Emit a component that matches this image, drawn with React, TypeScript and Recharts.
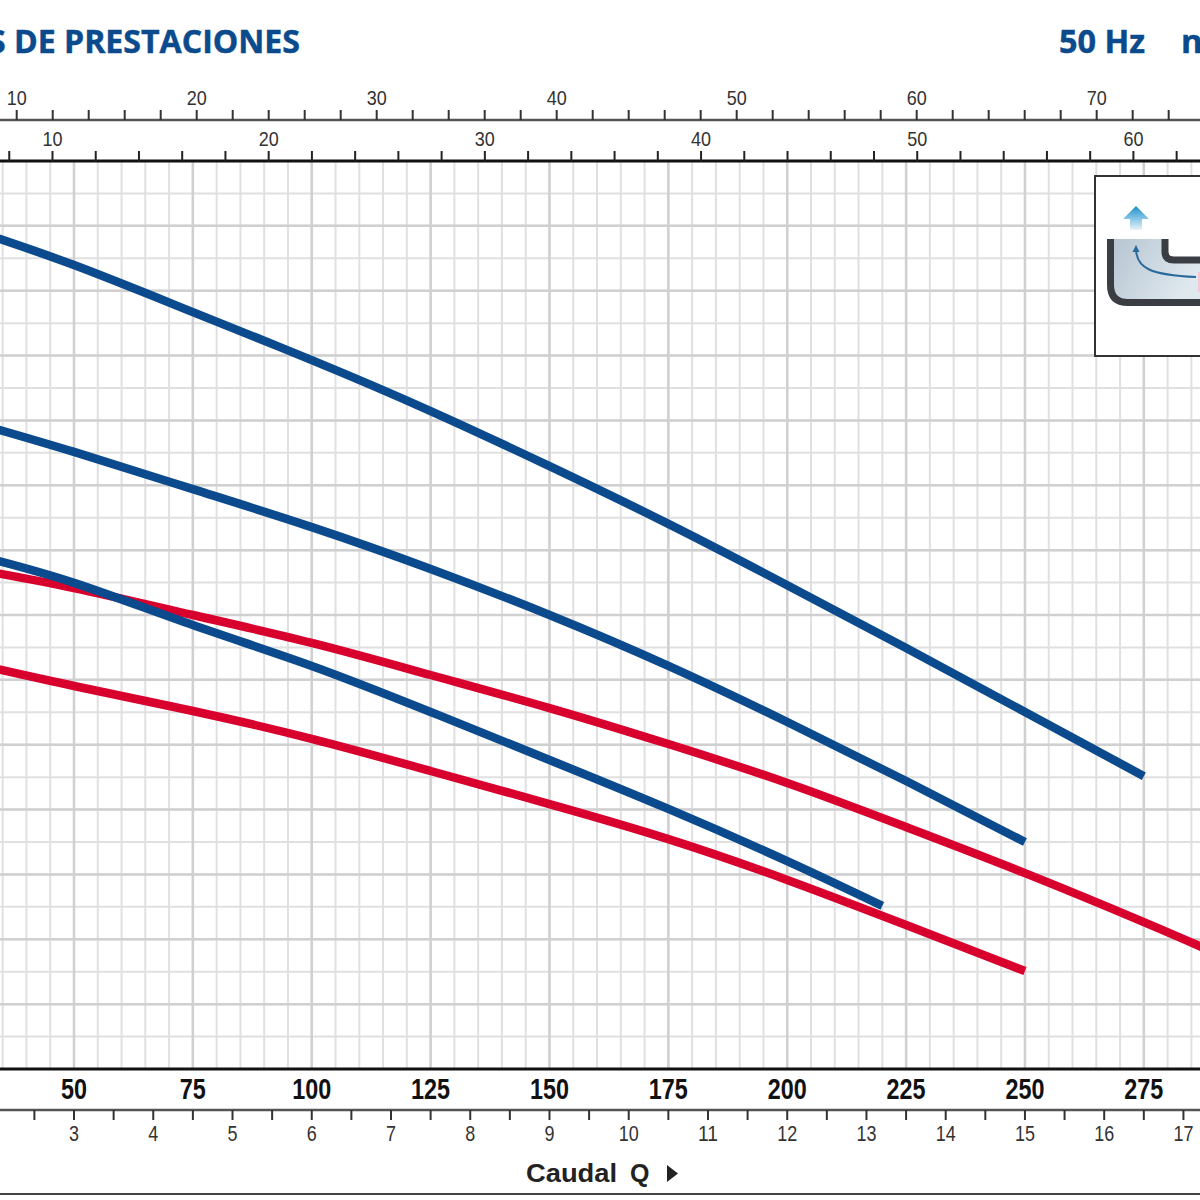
import { CartesianGrid, Line, LineChart, XAxis, YAxis } from 'recharts';

// Caudal Q in l/min, altura in grid units
const flow = [30, 50, 75, 100, 125, 150, 175, 200, 220, 225, 250, 275, 290];
const blueTop = [25.81, 24.79, 23.34, 21.86, 20.29, 18.59, 16.81, 14.92, null, 12.98, 11.01, 9.03, null];
const blueMid = [19.89, 19.03, 17.88, 16.71, 15.42, 14.0, 12.43, 10.7, null, 8.88, 7.0, null, null];
const blueLow = [15.82, 14.99, 13.69, 12.43, 11.01, 9.53, 8.02, 6.41, 5.03, null, null, null, null];
const redTop = [15.39, 14.83, 14.0, 13.14, 12.15, 11.13, 10.02, 8.82, null, 7.46, 6.04, 4.53, 3.58];
const redLow = [12.46, 11.81, 11.04, 10.18, 9.19, 8.17, 7.09, 5.83, null, 4.44, 3.02, null, null];

const rows = flow.map((q, i) => ({
  q,
  blueTop: blueTop[i],
  blueMid: blueMid[i],
  blueLow: blueLow[i],
  redTop: redTop[i],
  redLow: redLow[i],
}));

const topLabelsOuter = [10, 20, 30, 40, 50, 60, 70];
const topLabelsInner = [10, 20, 30, 40, 50, 60];
const flowLabels = [50, 75, 100, 125, 150, 175, 200, 225, 250, 275];
const cubicLabels = [3, 4, 5, 6, 7, 8, 9, 10, 11, 12, 13, 14, 15, 16, 17];

const range = (from: number, to: number, step: number) => {
  const out: number[] = [];
  for (let v = from; v <= to + 1e-9; v += step) out.push(v);
  return out;
};

const FLOW_DOMAIN = [34.44, 286.81];
const CUBIC_DOMAIN = [2.066, 17.209];
const OUTER_DOMAIN = [9.072, 75.74];
const INNER_DOMAIN = [7.572, 63.08];

const minorV = range(35, 285, 5);
const majorV = range(50, 275, 25);
const minorH = range(1, 27, 1);
const majorH = range(2, 26, 2);

const BLUE = '#0b4a8c';
const RED = '#d8002c';
const SANS = '"Liberation Sans", Arial, sans-serif';

// no condensed font is installed, so the tick labels get squeezed to the reference width
function SqueezedTick(props: any) {
  const { x, y, payload, labels, size, digit, weight, fill, dy } = props;
  if (!labels.includes(payload.value)) return null;
  const text = String(payload.value);
  return (
    <text
      x={x}
      y={y + dy}
      textAnchor="middle"
      fontFamily={SANS}
      fontSize={size}
      fontWeight={weight}
      fill={fill}
      textLength={digit * text.length}
      lengthAdjust="spacingAndGlyphs"
    >
      {text}
    </text>
  );
}

const seriesProps = {
  xAxisId: 'b1Flow',
  yAxisId: 'h',
  type: 'natural' as const,
  strokeWidth: 8.5,
  dot: false,
  connectNulls: true,
  strokeLinecap: 'butt' as const,
  isAnimationActive: false,
};

export default function App() {
  return (
    <div style={{ position: 'absolute', left: 0, top: 0, width: 1200, height: 1200, overflow: 'hidden', background: '#fff' }}>
      <LineChart width={1200} height={1200} data={rows} margin={{ top: 0, right: 0, bottom: 5, left: 0 }}>
        <CartesianGrid xAxisId="b1Flow" yAxisId="h" horizontalValues={minorH} verticalValues={minorV} stroke="#e0e0e0" strokeWidth={2} />
        <CartesianGrid xAxisId="b1Flow" yAxisId="h" horizontalValues={majorH} verticalValues={majorV} stroke="#d0d0d0" strokeWidth={2.5} />

        <XAxis
          xAxisId="t1Inner"
          dataKey="q"
          orientation="top"
          type="number"
          height={41}
          domain={INNER_DOMAIN}
          allowDataOverflow
          ticks={range(8, 62, 2)}
          interval={0}
          tick={<SqueezedTick labels={topLabelsInner} size={21} digit={10} weight={400} fill="#333" dy={0} />}
          tickSize={10}
          tickMargin={5}
          axisLine={{ stroke: '#111', strokeWidth: 3 }}
          tickLine={{ stroke: '#222', strokeWidth: 2 }}
        />
        <XAxis
          xAxisId="t2Outer"
          dataKey="q"
          orientation="top"
          type="number"
          height={120}
          domain={OUTER_DOMAIN}
          allowDataOverflow
          ticks={range(10, 74, 2)}
          interval={0}
          tick={<SqueezedTick labels={topLabelsOuter} size={21} digit={10} weight={400} fill="#333" dy={0} />}
          tickSize={10}
          tickMargin={5}
          axisLine={{ stroke: '#555', strokeWidth: 2.5 }}
          tickLine={{ stroke: '#333', strokeWidth: 2 }}
        />

        <XAxis
          xAxisId="b1Flow"
          type="number"
          dataKey="q"
          height={41}
          domain={FLOW_DOMAIN}
          allowDataOverflow
          ticks={flowLabels}
          interval={0}
          tick={<SqueezedTick labels={flowLabels} size={29} digit={13} weight={700} fill="#111" dy={21} />}
          tickLine={false}
          tickSize={0}
          tickMargin={9}
          axisLine={{ stroke: '#111', strokeWidth: 3 }}
        />
        <XAxis
          xAxisId="b2Cubic"
          dataKey="q"
          type="number"
          height={84}
          domain={CUBIC_DOMAIN}
          allowDataOverflow
          ticks={range(2.5, 17, 0.5)}
          interval={0}
          tick={<SqueezedTick labels={cubicLabels} size={22} digit={10} weight={400} fill="#333" dy={16} />}
          tickSize={10}
          tickMargin={5}
          axisLine={{ stroke: '#555', strokeWidth: 2.5 }}
          tickLine={{ stroke: '#333', strokeWidth: 2 }}
        />
        <XAxis
          xAxisId="b3Base"
          dataKey="q"
          type="number"
          height={1}
          domain={FLOW_DOMAIN}
          allowDataOverflow
          tick={false}
          tickLine={false}
          axisLine={{ stroke: '#444', strokeWidth: 2 }}
        />

        <YAxis yAxisId="h" hide type="number" domain={[0, 28]} allowDataOverflow />

        <Line {...seriesProps} dataKey="blueTop" stroke={BLUE} />
        <Line {...seriesProps} dataKey="blueMid" stroke={BLUE} />
        <Line {...seriesProps} dataKey="redTop" stroke={RED} />
        <Line {...seriesProps} dataKey="redLow" stroke={RED} />
        <Line {...seriesProps} dataKey="blueLow" stroke={BLUE} />
      </LineChart>

      {/* header, axis title and the pump section inset sit on top of the chart */}
      <svg width={1200} height={1200} style={{ position: 'absolute', left: 0, top: 0, pointerEvents: 'none' }}>
        <defs>
          <linearGradient id="arrowFill" x1="0" y1="0" x2="0" y2="1">
            <stop offset="0" stopColor="#1a8fcb" />
            <stop offset="1" stopColor="#e8f4fa" />
          </linearGradient>
          <linearGradient id="waterFill" x1="0" y1="0" x2="1" y2="0.4">
            <stop offset="0" stopColor="#b5c4d0" />
            <stop offset="1" stopColor="#dfe8ef" />
          </linearGradient>
        </defs>

        <g fontFamily='"Open Sans", sans-serif' fontWeight={700} fontSize={33} fill={BLUE} stroke={BLUE} strokeWidth={0.5}>
          <text x={-12} y={53} textLength={312} lengthAdjust="spacingAndGlyphs">S DE PRESTACIONES</text>
          <text x={1059} y={53} textLength={86} lengthAdjust="spacingAndGlyphs">50 Hz</text>
          <text x={1181} y={53}>n</text>
        </g>

        <text x={526} y={1182} fontFamily={SANS} fontWeight={700} fontSize={25} fill="#222" textLength={91} lengthAdjust="spacingAndGlyphs">Caudal</text>
        <text x={630} y={1182} fontFamily={SANS} fontWeight={700} fontSize={25} fill="#222">Q</text>
        <path d="M667 1165 L678 1173.5 L667 1182 Z" fill="#222" />

        <rect x={1095} y={176} width={120} height={180} fill="#fff" stroke="#333" strokeWidth={2} />
        <path d="M1136 206 L1149 219 L1142 219 L1142 230 L1130 230 L1130 219 L1123 219 Z" fill="url(#arrowFill)" />
        <path d="M1110 239 L1110 285 Q1110 302 1127 302 L1200 302 L1200 260 L1175 260 Q1165 260 1165 252 L1165 239 Z" fill="url(#waterFill)" />
        <path d="M1110.5 239 L1110.5 285 Q1110.5 302.5 1128 302.5 L1200 302.5" fill="none" stroke="#3a3d42" strokeWidth={7} />
        <path d="M1165 239 L1165 252 Q1165 260 1174 260 L1200 260" fill="none" stroke="#3a3d42" strokeWidth={7} />
        <path d="M1136 250 C1137 268 1150 275 1196 277" fill="none" stroke="#2a6a9a" strokeWidth={2} />
        <path d="M1136 245 L1139.5 252 L1132.5 252 Z" fill="#2a6a9a" />
        <rect x={1198} y={272} width={2} height={20} fill="#f5c6d6" />
      </svg>
    </div>
  );
}
